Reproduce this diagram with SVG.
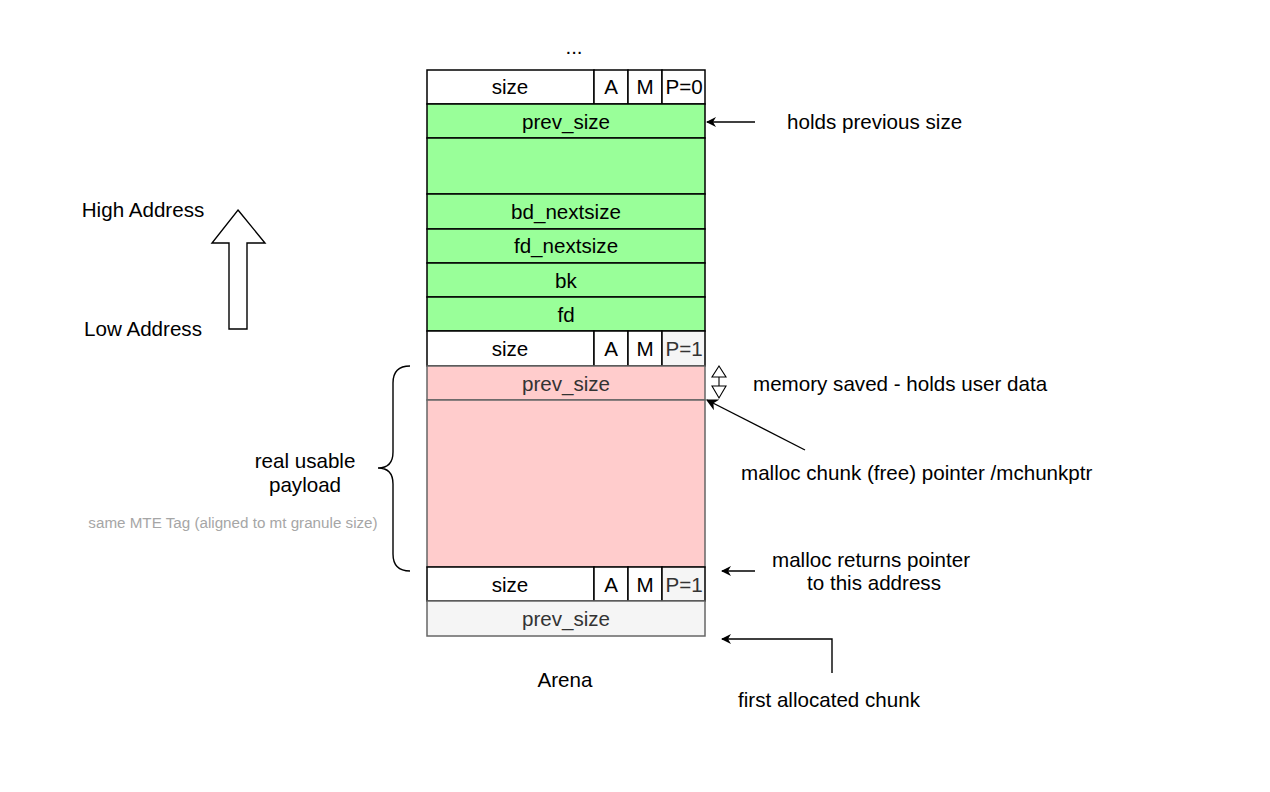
<svg xmlns="http://www.w3.org/2000/svg" width="1270" height="792" viewBox="0 0 1270 792">
<style>
text{font-family:"Liberation Sans",Arial,sans-serif;font-size:20.6px;fill:#000;transform:translateY(-1px);}
.c{text-anchor:middle;dominant-baseline:central;}
.l{dominant-baseline:central;}
.w{fill:#fff;stroke:#000;stroke-width:1.5;}
.g{fill:#99FF99;stroke:#000;stroke-width:1.5;}
.p{fill:#FFCCCC;stroke:#666;stroke-width:1.5;}
.gr{fill:#f5f5f5;stroke:#666;stroke-width:1.5;}
.grb{fill:#f5f5f5;stroke:#000;stroke-width:1.5;}
.dt{fill:#333;}
.ln{fill:none;stroke:#000;stroke-width:1.4;}
</style>
<defs>
<marker id="ah" viewBox="0 0 10 10" refX="9" refY="5" markerWidth="10" markerHeight="10" markerUnits="userSpaceOnUse" orient="auto">
<path d="M0,0 L10,5 L0,10 L3,5 z" fill="#000"/>
</marker>
<marker id="ah2" viewBox="0 0 10 10" refX="9" refY="5" markerWidth="12" markerHeight="12" markerUnits="userSpaceOnUse" orient="auto">
<path d="M0,0 L10,5 L0,10 L3,5 z" fill="#000"/>
</marker>
</defs>
<rect width="1270" height="792" fill="#fff"/>

<text class="c" x="574" y="47">...</text>

<g id="chunk-top-size">
<rect class="w" x="427" y="70" width="167" height="34"/>
<text class="c" x="510" y="87">size</text>
<rect class="w" x="594" y="70" width="34" height="34"/>
<text class="c" x="611" y="87">A</text>
<rect class="w" x="628" y="70" width="34" height="34"/>
<text class="c" x="645" y="87">M</text>
<rect class="w" x="662" y="70" width="43" height="34"/>
<text class="c" x="684" y="87">P=0</text>
</g>
<g id="free-prev-size"><rect class="g" x="427" y="104" width="278" height="34"/><text class="c" x="566" y="122">prev_size</text></g>
<g id="free-blank"><rect class="g" x="427" y="138" width="278" height="56"/></g>
<g id="bd-nextsize"><rect class="g" x="427" y="194" width="278" height="35"/><text class="c" x="566" y="212">bd_nextsize</text></g>
<g id="fd-nextsize"><rect class="g" x="427" y="229" width="278" height="34"/><text class="c" x="566" y="246">fd_nextsize</text></g>
<g id="bk"><rect class="g" x="427" y="263" width="278" height="34"/><text class="c" x="566" y="281">bk</text></g>
<g id="fd"><rect class="g" x="427" y="297" width="278" height="34"/><text class="c" x="566" y="315">fd</text></g>

<g id="chunk-mid-size">
<rect class="w" x="427" y="331" width="167" height="35"/>
<text class="c" x="510" y="349">size</text>
<rect class="w" x="594" y="331" width="34" height="35"/>
<text class="c" x="611" y="349">A</text>
<rect class="w" x="628" y="331" width="34" height="35"/>
<text class="c" x="645" y="349">M</text>
<rect class="grb" x="662" y="331" width="43" height="35"/>
<text class="c dt" x="684" y="349">P=1</text>
</g>
<g id="used-prev-size"><rect class="p" x="427" y="366" width="278" height="34"/><text class="c dt" x="566" y="384">prev_size</text></g>
<g id="payload"><rect class="p" x="427" y="400" width="278" height="167"/></g>

<g id="chunk-low-size">
<rect class="w" x="427" y="567" width="167" height="34"/>
<text class="c" x="510" y="585">size</text>
<rect class="w" x="594" y="567" width="34" height="34"/>
<text class="c" x="611" y="585">A</text>
<rect class="w" x="628" y="567" width="34" height="34"/>
<text class="c" x="645" y="585">M</text>
<rect class="grb" x="662" y="567" width="43" height="34"/>
<text class="c dt" x="684" y="585">P=1</text>
</g>
<g id="first-prev-size"><rect class="gr" x="427" y="601" width="278" height="35"/><text class="c dt" x="566" y="619">prev_size</text></g>

<text class="c" x="565" y="680">Arena</text>

<g id="address-arrow">
<path d="M238,210 L265,243 L247,243 L247,329 L229,329 L229,243 L212,243 Z" fill="#fff" stroke="#000" stroke-width="1.4"/>
<text class="c" x="143" y="210">High Address</text>
<text class="c" x="143" y="329">Low Address</text>
</g>

<g id="payload-brace">
<path class="ln" d="M410,366 Q393,366 393,383 L393,452 Q393,468 378,468 Q393,468 393,484 L393,554 Q393,571 410,571"/>
<text class="c" x="305" y="461">real usable</text>
<text class="c" x="305" y="485">payload</text>
<text class="c" x="233" y="523" style="font-size:15.2px;fill:#a6a6a6;">same MTE Tag (aligned to mt granule size)</text>
</g>

<g id="connectors">
<line class="ln" x1="755" y1="122" x2="707" y2="122" marker-end="url(#ah)"/>
<line class="ln" x1="805" y1="450" x2="707" y2="400" marker-end="url(#ah2)"/>
<line class="ln" x1="755" y1="571" x2="722" y2="571" marker-end="url(#ah)"/>
<path class="ln" d="M832,673 L832,639 L722,639" marker-end="url(#ah)"/>
<g id="mem-saved-dim">
<path d="M719,366 L726,377 L712,377 Z" fill="#fff" stroke="#000" stroke-width="1.1"/>
<line x1="719" y1="377" x2="719" y2="386" stroke="#000" stroke-width="1.1"/>
<path d="M712,386 L726,386 L719,398 Z" fill="#fff" stroke="#000" stroke-width="1.1"/>
</g>
</g>

<g id="labels">
<text class="l" x="787" y="122">holds previous size</text>
<text class="l" x="753" y="384">memory saved - holds user data</text>
<text class="l" x="741" y="473">malloc chunk (free) pointer /mchunkptr</text>
<text class="c" x="871" y="560">malloc returns pointer</text>
<text class="c" x="874" y="583">to this address</text>
<text class="c" x="829" y="700">first allocated chunk</text>
</g>
</svg>
